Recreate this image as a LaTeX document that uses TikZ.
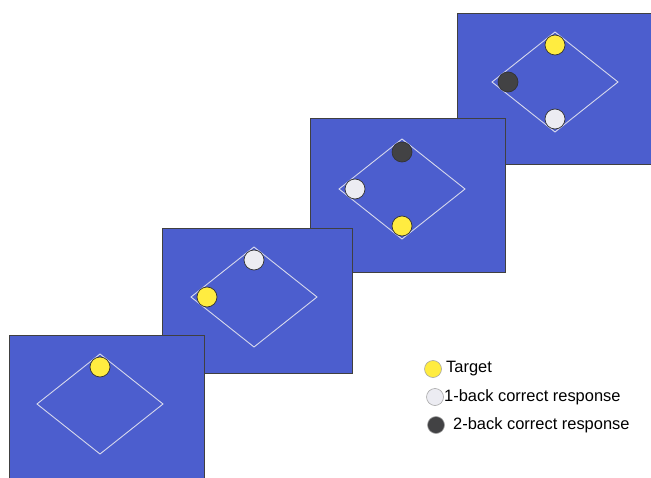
\documentclass[tikz,border=0pt]{standalone}
\usepackage{fontspec}
\setmainfont{Liberation Sans}
\definecolor{panelblue}{RGB}{76,94,206}
\definecolor{rimline}{RGB}{214,216,236}
\definecolor{targetyellow}{RGB}{255,236,64}
\definecolor{onebackwhite}{RGB}{236,236,242}
\definecolor{twobackgray}{RGB}{66,66,68}
\begin{document}
\begin{tikzpicture}[x=1bp, y=-1bp,
    panel/.style={fill=panelblue, draw=black!75, line width=0.9bp},
    rim/.style={draw=rimline, line width=0.9bp},
    dot/.style={circle, inner sep=0pt, minimum size=20bp, draw=black!80, line width=0.7bp},
    target/.style={dot, fill=targetyellow},
    oneback/.style={dot, fill=onebackwhite},
    twoback/.style={dot, fill=twobackgray},
    keydot/.style={circle, inner sep=0pt, minimum size=17bp, draw=black!35, line width=0.6bp},
    keytext/.style={anchor=west, inner sep=0pt, font=\fontsize{16.5}{18}\selectfont}]
    \useasboundingbox (0,0) rectangle (651,478);
    \clip (0,0) rectangle (651,478);

    % Panel 4 (back)
    \filldraw[panel] (457,13) rectangle (660,164);
    \draw[rim] (492,82) -- (555,32) -- (618,82) -- (555,132) -- cycle;
    \node[target] (pdtarget) at (555,45) {};
    \node[twoback] (pdtwo) at (508,82) {};
    \node[oneback] (pdone) at (555,119) {};

    % Panel 3
    \filldraw[panel] (310,118) rectangle (505,272);
    \draw[rim] (339,189) -- (402,139) -- (465,189) -- (402,239) -- cycle;
    \node[twoback] (pctwo) at (402,152) {};
    \node[oneback] (pcone) at (355,189) {};
    \node[target] (pctarget) at (402,226) {};

    % Panel 2
    \filldraw[panel] (162,228) rectangle (352,373);
    \draw[rim] (191,297) -- (254,247) -- (317,297) -- (254,347) -- cycle;
    \node[oneback] (pbone) at (254,260) {};
    \node[target] (pbtarget) at (207,297) {};

    % Panel 1 (front)
    \filldraw[panel] (9,335) rectangle (204,495);
    \draw[rim] (37,404) -- (100,354) -- (163,404) -- (100,454) -- cycle;
    \node[target] (patarget) at (100,367) {};

    % Legend
    \node[keydot, fill=targetyellow] (ktarget) at (433,369) {};
    \node[keytext] (ltarget) at (446,369) {Target};
    \node[keydot, fill=onebackwhite] (kone) at (435,397) {};
    \node[keytext] (lone) at (444,397) {1-back correct response};
    \node[keydot, fill=twobackgray] (ktwo) at (436,425) {};
    \node[keytext] (ltwo) at (453,425) {2-back correct response};
\end{tikzpicture}
\end{document}
